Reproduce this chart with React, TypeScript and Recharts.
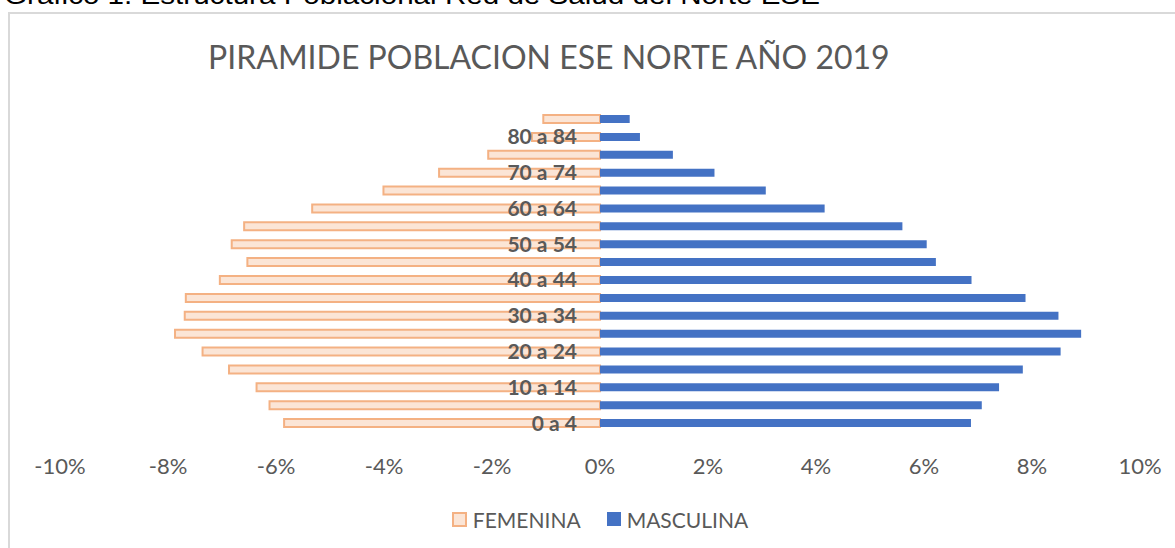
import React from 'react';
import { BarChart, Bar, XAxis, YAxis, Legend, LabelList } from 'recharts';

const ageGroups = ['0 a 4', '5 a 9', '10 a 14', '15 a 19', '20 a 24', '25 a 29', '30 a 34', '35 a 39', '40 a 44', '45 a 49', '50 a 54', '55 a 59', '60 a 64', '65 a 69', '70 a 74', '75 a 79', '80 a 84', '85 y más'];
const femenina = [-5.85, -6.12, -6.36, -6.87, -7.36, -7.87, -7.69, -7.67, -7.04, -6.53, -6.82, -6.59, -5.33, -4.01, -2.98, -2.07, -1.26, -1.05];
const masculina = [6.87, 7.07, 7.39, 7.83, 8.53, 8.91, 8.49, 7.88, 6.88, 6.22, 6.05, 5.6, 4.16, 3.07, 2.12, 1.35, 0.74, 0.55];
const shownAgeLabels = ['0 a 4', '10 a 14', '20 a 24', '30 a 34', '40 a 44', '50 a 54', '60 a 64', '70 a 74', '80 a 84'];
const xTicks = [-10, -8, -6, -4, -2, 0, 2, 4, 6, 8, 10];

const data = ageGroups.map((age, i) => ({
  age,
  label: shownAgeLabels.includes(age) ? age : '',
  FEMENINA: femenina[i],
  MASCULINA: masculina[i],
}));

const FONT = 'Lato, "Noto Sans", sans-serif';
const GREY = '#595959';
const BLUE = '#4472C4';
const PEACH = '#FBE5D6';
const ORANGE = '#F4B183';

const renderLegend = (props: any) => {
  const payload = props.payload || [];
  return (
    <div style={{ display: 'flex', justifyContent: 'center', alignItems: 'center', paddingTop: 24, height: 26, fontFamily: FONT, fontSize: 21, color: GREY }}>
      {payload.map((p: any, i: number) => {
        const isFem = p.dataKey === 'FEMENINA';
        return (
          <div key={i} style={{ display: 'flex', alignItems: 'center', marginLeft: i === 0 ? 0 : 26 }}>
            <div
              style={{
                width: isFem ? 11 : 14,
                height: isFem ? 11 : 14,
                background: isFem ? PEACH : BLUE,
                border: isFem ? `2px solid ${ORANGE}` : 'none',
                marginRight: 6,
              }}
            />
            <span>{p.value}</span>
          </div>
        );
      })}
    </div>
  );
};

export default function App() {
  return (
    <div style={{ position: 'absolute', left: 0, top: 0, width: 1175, height: 548, overflow: 'hidden', background: '#fff' }}>
      <svg width={1175} height={20} style={{ position: 'absolute', left: 0, top: 0 }}>
        <text x={4} y={4} fontFamily='"Liberation Sans", Arial, sans-serif' fontSize={26} fill="#000" textLength={816} lengthAdjust="spacingAndGlyphs">
          Gráfico 1. Estructura Poblacional Red de Salud del Norte ESE
        </text>
      </svg>
      <div style={{ position: 'absolute', left: 8, top: 12, width: 1200, height: 600, border: '2px solid #D9D9D9', boxSizing: 'border-box' }} />
      <div style={{ position: 'absolute', left: 208, top: 37, fontFamily: FONT, fontWeight: 400, fontSize: 32, color: GREY, whiteSpace: 'nowrap', lineHeight: '40px' }}>
        PIRAMIDE POBLACION ESE NORTE AÑO 2019
      </div>
      <div style={{ position: 'absolute', left: 0, top: 0 }}>
        <BarChart
          width={1175}
          height={548}
          data={data}
          layout="vertical"
          stackOffset="sign"
          margin={{ top: 110, right: 35, left: 60, bottom: 16 }}
        >
          <XAxis
            type="number"
            domain={[-10, 10]}
            ticks={xTicks}
            tickFormatter={(v: number) => `${v}%`}
            axisLine={false}
            tickLine={false}
            tickMargin={20}
            height={50}
            interval={0}
            tick={{ fill: GREY, fontSize: 22, fontFamily: FONT }}
          />
          <YAxis type="category" dataKey="age" reversed hide width={0} />
          <Legend verticalAlign="bottom" height={50} content={renderLegend} />
          <Bar dataKey="FEMENINA" stackId="a" barSize={8} fill={PEACH} stroke={ORANGE} strokeWidth={2} isAnimationActive={false} />
          <Bar dataKey="MASCULINA" stackId="a" barSize={8} fill={BLUE} isAnimationActive={false}>
            <LabelList
              dataKey="label"
              position="left"
              offset={23}
              style={{ fill: GREY, fontSize: 21, fontWeight: 700, fontFamily: FONT }}
            />
          </Bar>
        </BarChart>
      </div>
    </div>
  );
}
